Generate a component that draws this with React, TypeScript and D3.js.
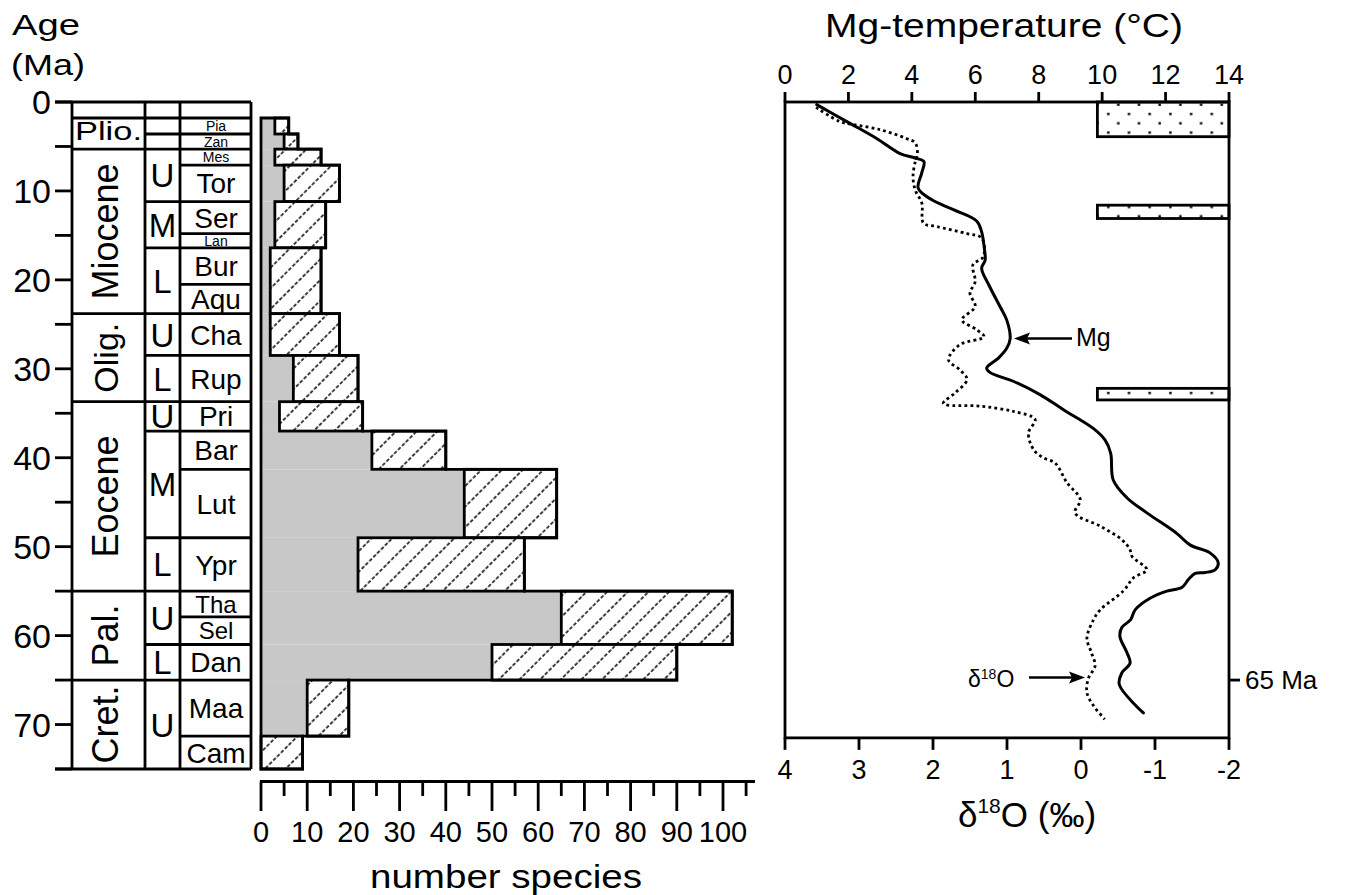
import React from 'react';
import * as d3 from 'd3';

const FONT = "'Liberation Sans', Arial, Helvetica, sans-serif";

// ---------- Time scale ----------
const ageTicks = d3.range(0, 76, 5);
const ageLabels = [0, 10, 20, 30, 40, 50, 60, 70];
const epochNames = ['', 'Plio.', 'Miocene', 'Olig.', 'Eocene', 'Pal.', 'Cret.'];
const epochBounds = [0, 1.8, 5.3, 23.8, 33.7, 55, 65, 75];
const subNames = ['', '', '', 'U', 'M', 'L', 'U', 'L', 'U', 'M', 'L', 'U', 'L', 'U'];
const subBounds = [0, 1.8, 3.6, 5.3, 11.2, 16.4, 23.8, 28.5, 33.7, 37, 49, 55, 61, 65, 75];
const stageNames = ['Pia', 'Zan', 'Mes', 'Tor', 'Ser', 'Lan', 'Bur', 'Aqu', 'Cha', 'Rup', 'Pri', 'Bar', 'Lut', 'Ypr', 'Tha', 'Sel', 'Dan', 'Maa', 'Cam'];
const stageBounds = [1.8, 3.6, 5.3, 7.1, 11.2, 14.8, 16.4, 20.5, 23.8, 28.5, 33.7, 37.0, 41.3, 49.0, 55.0, 57.9, 61.0, 65.0, 71.3, 75];
const smallStages = ['Pia', 'Zan', 'Mes', 'Lan'];
const narrowStages = ['Tha', 'Sel'];

// ---------- Species histogram ----------
const greyCounts = [3, 5, 3, 5, 3, 3, 2, 2, 2, 7, 4, 24, 44, 21, 65, 65, 50, 10, 0];
const totalCounts = [6, 8, 13, 17, 14, 14, 13, 13, 17, 21, 22, 40, 64, 57, 102, 102, 90, 19, 9];
const countTicks = d3.range(0, 106, 5);
const countLabels = d3.range(0, 101, 10);

// ---------- Mg temperature (solid) ----------
const mgAge = [0.3, 2.4, 4.1, 5.8, 6.3, 6.7, 8.0, 9.7, 11.0, 12.1, 13.4, 14.6, 16.3, 17.8, 18.7, 20.8, 23.0, 24.5, 26.6, 27.7, 28.8, 29.9, 30.4, 31.4, 32.9, 34.6, 36.7, 38.0, 39.5, 42.5, 44.5, 46.2, 48.5, 49.8, 50.7, 51.8, 52.6, 52.9, 53.0, 53.7, 54.6, 55.0, 55.8, 57.1, 58.2, 59.1, 60.1, 61.9, 63.1, 64.2, 65.5, 68.7];
const mgTemp = [1.0, 2.05, 2.89, 3.63, 4.1, 4.38, 4.31, 4.2, 4.63, 5.31, 6.05, 6.2, 6.28, 6.31, 6.2, 6.46, 6.78, 6.99, 7.1, 6.99, 6.73, 6.36, 6.46, 7.2, 8.04, 8.78, 9.72, 10.09, 10.27, 10.35, 10.78, 11.41, 12.35, 12.77, 13.4, 13.66, 13.56, 13.25, 12.93, 12.72, 12.51, 12.04, 11.51, 11.04, 10.9, 10.62, 10.56, 10.78, 10.88, 10.62, 10.54, 11.3];

// ---------- delta 18O (dotted) ----------
const d18Age = [0.6, 2.2, 2.5, 3.1, 4.1, 4.6, 5.8, 6.7, 8.4, 9.9, 11.4, 13.6, 14.0, 14.8, 15.3, 17.4, 18.3, 20.2, 21.5, 23.0, 24.5, 25.6, 26.4, 27.3, 29.0, 30.1, 31.2, 32.7, 33.9, 34.2, 34.8, 35.7, 37.2, 39.1, 40.0, 40.6, 42.8, 44.7, 46.2, 47.7, 49.2, 50.3, 51.1, 52.6, 53.5, 55.0, 57.1, 58.2, 60.3, 61.9, 63.4, 64.8, 66.4, 67.9, 69.4];
const d18Val = [3.58, 3.26, 3.1, 2.72, 2.36, 2.24, 2.21, 2.24, 2.27, 2.24, 2.15, 2.13, 1.95, 1.54, 1.34, 1.32, 1.46, 1.43, 1.5, 1.43, 1.61, 1.41, 1.31, 1.64, 1.79, 1.64, 1.54, 1.7, 1.86, 1.36, 0.91, 0.62, 0.71, 0.64, 0.51, 0.35, 0.19, 0.01, 0.08, -0.26, -0.55, -0.66, -0.69, -0.89, -0.71, -0.57, -0.26, -0.17, -0.08, -0.14, -0.19, -0.1, -0.08, -0.17, -0.32];

const tempTicks = [0, 2, 4, 6, 8, 10, 12, 14];
const d18Ticks = [4, 3, 2, 1, 0, -1, -2];
// ice / cool intervals (stippled boxes)
const iceAgeTop = [0, 11.6, 32.2];
const iceAgeBottom = [3.9, 13.1, 33.5];
const iceTempFrom = 9.85;
const iceTempTo = 14;
const panelAgeMax = 71.5;
const markerAge = 65;

// ---------- scales ----------
const yAge = d3.scaleLinear().domain([0, 75]).range([102, 769]);
const xCount = d3.scaleLinear().domain([0, 100]).range([261, 723]);
const xTemp = d3.scaleLinear().domain([0, 14]).range([785, 1229]);
const xD18 = d3.scaleLinear().domain([4, -2]).range([785, 1229]);

const COL = [72, 145, 180, 251];
const SW = 2.8;

export default function App() {
  // merged histogram bins
  const bins: { a0: number; a1: number; g: number; t: number }[] = [];
  stageNames.forEach((_, i) => {
    const a0 = stageBounds[i], a1 = stageBounds[i + 1];
    const last = bins[bins.length - 1];
    if (last && last.g === greyCounts[i] && last.t === totalCounts[i]) last.a1 = a1;
    else bins.push({ a0, a1, g: greyCounts[i], t: totalCounts[i] });
  });
  let outline = `M${xCount(0)},${yAge(bins[0].a0)}`;
  bins.forEach((b) => {
    outline += `H${xCount(b.t)}V${yAge(b.a1)}`;
  });
  outline += `H${xCount(0)}Z`;

  const mgLine = d3
    .line<number>()
    .x((_, i) => xTemp(mgTemp[i]))
    .y((d) => yAge(d))
    .curve(d3.curveCatmullRom.alpha(0.5))(mgAge) as string;
  const d18Line = d3
    .line<number>()
    .x((_, i) => xD18(d18Val[i]))
    .y((d) => yAge(d))
    .curve(d3.curveCatmullRom.alpha(0.5))(d18Age) as string;

  // horizontal boundary lines in the timescale
  const allCols = new Set(epochBounds.map(String));
  const subSet = new Set(subBounds.map(String));
  const hLines: JSX.Element[] = [];
  const allAges = Array.from(new Set([...epochBounds, ...subBounds, ...stageBounds])).sort((a, b) => a - b);
  allAges.forEach((a, i) => {
    let x0 = COL[2];
    if (allCols.has(String(a))) x0 = COL[0];
    else if (subSet.has(String(a))) x0 = COL[1];
    if (a === 0 || a === 75) x0 = 55;
    hLines.push(<line key={'h' + i} x1={x0} x2={COL[3]} y1={yAge(a)} y2={yAge(a)} stroke="#000" strokeWidth={SW} />);
  });

  const pTop = yAge(0), pBot = yAge(panelAgeMax);

  return (
    <svg width={1351} height={895} style={{ position: 'absolute', left: 0, top: 0, background: '#fff' }} fontFamily={FONT}>
      <defs>
        <pattern id="hatch" patternUnits="userSpaceOnUse" width={14.6} height={16.5} patternTransform="rotate(45)">
          <line x1={1} y1={0} x2={1} y2={16.5} stroke="#000" strokeWidth={1.5} strokeDasharray="3.6,1.9" />
        </pattern>
        <pattern id="dots" patternUnits="userSpaceOnUse" width={20.7} height={18.6} x={1096} y={103}>
          <rect x={11.1} y={9.8} width={2.4} height={2.4} fill="#000" />
          <rect x={0.4} y={0.5} width={2.4} height={2.4} fill="#000" />
        </pattern>
      </defs>
      <rect width={1351} height={895} fill="#fff" />

      {/* Age axis title */}
      <text x={12} y={35} fontSize={30} textLength={68} lengthAdjust="spacingAndGlyphs">Age</text>
      <text x={11} y={75} fontSize={30} textLength={74} lengthAdjust="spacingAndGlyphs">(Ma)</text>

      {/* age ticks */}
      {ageTicks.map((a) => (
        <line key={'t' + a} x1={55} x2={COL[0]} y1={yAge(a)} y2={yAge(a)} stroke="#000" strokeWidth={SW} />
      ))}
      {ageLabels.map((a) => (
        <text key={'l' + a} x={51} y={yAge(a) + 12} fontSize={34} textAnchor="end">{a}</text>
      ))}

      {/* timescale columns */}
      {COL.map((x, i) => (
        <line key={'c' + i} x1={x} x2={x} y1={yAge(0)} y2={yAge(75)} stroke="#000" strokeWidth={SW} />
      ))}
      {hLines}

      {/* epoch labels */}
      {epochNames.map((n, i) => {
        if (!n) return null;
        const cy = (yAge(epochBounds[i]) + yAge(epochBounds[i + 1])) / 2;
        if (n === 'Plio.')
          return (
            <text key={n} x={75} y={yAge(epochBounds[i + 1]) - 9} fontSize={26} textLength={67} lengthAdjust="spacingAndGlyphs">{n}</text>
          );
        return (
          <text key={n} transform={`translate(118,${cy}) rotate(-90)`} fontSize={n === 'Olig.' ? 34 : 36} textAnchor="middle">{n}</text>
        );
      })}
      {/* sub-epoch labels */}
      {subNames.map((n, i) => {
        if (!n) return null;
        const cy = (yAge(subBounds[i]) + yAge(subBounds[i + 1])) / 2;
        return (
          <text key={'s' + i} x={(COL[1] + COL[2]) / 2} y={cy + 12} fontSize={33} textAnchor="middle">{n}</text>
        );
      })}
      {/* stage labels */}
      {stageNames.map((n, i) => {
        const cy = (yAge(stageBounds[i]) + yAge(stageBounds[i + 1])) / 2;
        const fs = smallStages.includes(n) ? 14 : narrowStages.includes(n) ? 24 : 28;
        return (
          <text key={'st' + i} x={216} y={cy + fs * 0.36} fontSize={fs} textAnchor="middle">{n}</text>
        );
      })}

      {/* histogram */}
      {bins.map((b, i) => (
        <rect key={'g' + i} x={xCount(0)} y={yAge(b.a0)} width={xCount(b.g) - xCount(0)} height={yAge(b.a1) - yAge(b.a0)} fill="#c8c8c8" />
      ))}
      {bins.map((b, i) => (
        <g key={'hb' + i}>
          <rect x={xCount(b.g)} y={yAge(b.a0)} width={xCount(b.t) - xCount(b.g)} height={yAge(b.a1) - yAge(b.a0)} fill="#fff" />
          <rect x={xCount(b.g)} y={yAge(b.a0)} width={xCount(b.t) - xCount(b.g)} height={yAge(b.a1) - yAge(b.a0)} fill="url(#hatch)" stroke="#000" strokeWidth={SW} />
        </g>
      ))}
      <path d={outline} fill="none" stroke="#000" strokeWidth={SW} strokeLinejoin="miter" />

      {/* count axis */}
      <line x1={xCount(0) - 1} x2={755} y1={781.5} y2={781.5} stroke="#000" strokeWidth={SW} />
      {countTicks.map((c) => (
        <line key={'ct' + c} x1={xCount(c)} x2={xCount(c)} y1={781.5} y2={c % 10 === 0 ? 811 : 796} stroke="#000" strokeWidth={SW} />
      ))}
      {countLabels.map((c) => (
        <text key={'cl' + c} x={xCount(c)} y={842} fontSize={29} textAnchor="middle">{c}</text>
      ))}
      <text x={506} y={888} fontSize={33} textAnchor="middle" textLength={272} lengthAdjust="spacingAndGlyphs">number species</text>

      {/* right panel */}
      <text x={1004} y={37} fontSize={33} textAnchor="middle" textLength={358} lengthAdjust="spacingAndGlyphs">Mg-temperature (°C)</text>
      {tempTicks.map((t) => (
        <g key={'tt' + t}>
          <line x1={xTemp(t)} x2={xTemp(t)} y1={pTop} y2={pTop - 10} stroke="#000" strokeWidth={SW} />
          <text x={xTemp(t)} y={84} fontSize={27} textAnchor="middle">{t}</text>
        </g>
      ))}
      {d18Ticks.map((t) => (
        <g key={'dt' + t}>
          <line x1={xD18(t)} x2={xD18(t)} y1={pBot} y2={pBot + 12} stroke="#000" strokeWidth={SW} />
          <text x={xD18(t)} y={779} fontSize={27} textAnchor="middle">{t}</text>
        </g>
      ))}
      <text x={1027} y={827} fontSize={35} textAnchor="middle">
        δ<tspan fontSize={21} dy={-14}>18</tspan><tspan dy={14}>O (‰)</tspan>
      </text>

      {/* stippled boxes */}
      {iceAgeTop.map((a, i) => (
        <g key={'ice' + i}>
          <rect x={xTemp(iceTempFrom)} y={yAge(a)} width={xTemp(iceTempTo) - xTemp(iceTempFrom)} height={yAge(iceAgeBottom[i]) - yAge(a)} fill="#fff" />
          <rect x={xTemp(iceTempFrom)} y={yAge(a)} width={xTemp(iceTempTo) - xTemp(iceTempFrom)} height={yAge(iceAgeBottom[i]) - yAge(a)} fill="url(#dots)" stroke="#000" strokeWidth={SW} />
        </g>
      ))}

      {/* curves */}
      <path d={d18Line} fill="none" stroke="#000" strokeWidth={2.8} strokeDasharray="2.8,3.2" />
      <path d={mgLine} fill="none" stroke="#000" strokeWidth={3} strokeLinejoin="round" strokeLinecap="round" />

      {/* frame */}
      <rect x={xTemp(0)} y={pTop} width={xTemp(14) - xTemp(0)} height={pBot - pTop} fill="none" stroke="#000" strokeWidth={SW} />

      {/* 65 Ma marker */}
      <line x1={xTemp(14)} x2={xTemp(14) + 11} y1={yAge(markerAge)} y2={yAge(markerAge)} stroke="#000" strokeWidth={SW} />
      <text x={1245} y={yAge(markerAge) + 9} fontSize={26}>65 Ma</text>

      {/* Mg arrow */}
      <line x1={1072} x2={1024} y1={338.5} y2={338.5} stroke="#000" strokeWidth={2.6} />
      <polygon points="1014,338.5 1030,332.5 1027,338.5 1030,344.5" fill="#000" />
      <text x={1076} y={345.5} fontSize={25}>Mg</text>

      {/* d18O arrow */}
      <line x1={1029} x2={1074} y1={677.5} y2={677.5} stroke="#000" strokeWidth={2.6} />
      <polygon points="1085,677.5 1069,671.5 1072,677.5 1069,683.5" fill="#000" />
      <text x={968} y={687} fontSize={23}>
        δ<tspan fontSize={14} dy={-8}>18</tspan><tspan dy={8}>O</tspan>
      </text>
    </svg>
  );
}
